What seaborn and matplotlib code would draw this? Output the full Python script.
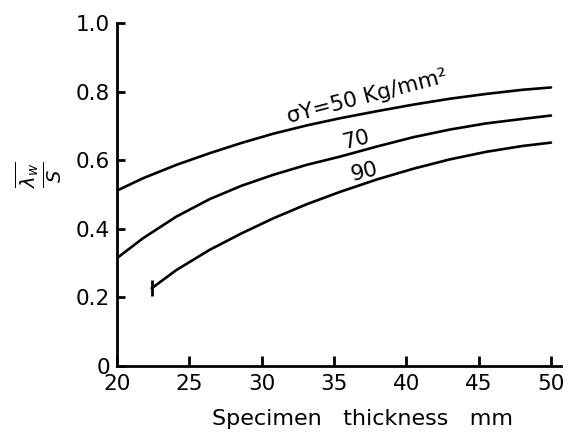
import matplotlib
matplotlib.use("Agg")
import matplotlib.pyplot as plt
import seaborn as sns

# Data
thick_50 = [20, 21.8, 24.1, 26.4, 28.6, 30.8, 33.1, 35.4, 38, 40.5, 43, 45.5, 48, 50]
ratio_50 = [0.511, 0.547, 0.586, 0.62, 0.65, 0.677, 0.701, 0.722, 0.743, 0.762, 0.779, 0.793, 0.805, 0.812]

thick_70 = [20, 21.8, 24.1, 26.4, 28.6, 30.8, 33.1, 35.4, 38, 40.5, 43, 45.5, 48, 50]
ratio_70 = [0.314, 0.372, 0.435, 0.486, 0.525, 0.557, 0.586, 0.61, 0.640, 0.667, 0.689, 0.707, 0.72, 0.73]

thick_90 = [22.4, 24.1, 26.4, 28.6, 30.8, 33.1, 35.4, 38, 40.5, 43, 45.5, 48, 50]
ratio_90 = [0.226, 0.279, 0.338, 0.386, 0.43, 0.471, 0.507, 0.544, 0.575, 0.602, 0.624, 0.641, 0.651]

curve_labels = ["σY=50 Kg/mm²", "70", "90"]
x_ticks = [20, 25, 30, 35, 40, 45, 50]
y_ticks = [0, 0.2, 0.4, 0.6, 0.8, 1.0]
y_tick_labels = ["0", "0.2", "0.4", "0.6", "0.8", "1.0"]
x_label = "Specimen   thickness   mm"

sns.set_style("ticks")
plt.rcParams["font.family"] = ["DejaVu Sans"]
plt.rcParams["text.color"] = "black"
plt.rcParams["axes.labelcolor"] = "black"

fig = plt.figure(figsize=(5.74, 4.36), dpi=100)
ax = fig.add_axes([0.2038, 0.1612, 0.7735, 0.786])

lw = 1.9
sns.lineplot(x=thick_50, y=ratio_50, ax=ax, color="black", lw=lw, legend=False)
sns.lineplot(x=thick_70, y=ratio_70, ax=ax, color="black", lw=lw, legend=False)
sns.lineplot(x=thick_90, y=ratio_90, ax=ax, color="black", lw=lw, legend=False,
             marker="|", markevery=[0], markersize=11, markeredgewidth=2.0,
             markeredgecolor="black")

ax.set_xlim(20, 50.69)
ax.set_ylim(0, 1.0)
ax.set_xticks(x_ticks)
ax.set_yticks(y_ticks)
ax.set_yticklabels(y_tick_labels)

for s in ["top", "right"]:
    ax.spines[s].set_visible(False)
for s in ["left", "bottom"]:
    ax.spines[s].set_linewidth(2.0)
    ax.spines[s].set_color("black")

ax.tick_params(axis="both", direction="in", width=2.0, labelsize=15.5,
               colors="black", labelcolor="black")
ax.tick_params(axis="x", length=7, pad=6)
ax.tick_params(axis="y", length=6, pad=5)
ax.set_facecolor("white")
ax.grid(False)

ax.set_xlabel(x_label, fontsize=16, color="black")
ax.xaxis.set_label_coords(0.554, -0.125)
ax.set_ylabel(r"$\frac{\overline{\lambda_w}}{S}$", fontsize=20, rotation=90, color="black")
ax.yaxis.set_label_coords(-0.12, 0.556)

# curve labels
ax.text(31.9, 0.708, curve_labels[0], fontsize=15.5, rotation=14.5,
        rotation_mode="anchor", ha="left", va="baseline", color="black")
ax.text(36.56, 0.659, curve_labels[1], fontsize=15.5, rotation=14,
        rotation_mode="anchor", ha="center", va="center", color="black")
ax.text(37.1, 0.566, curve_labels[2], fontsize=15.5, rotation=14,
        rotation_mode="anchor", ha="center", va="center", color="black")

fig.savefig("out.png", dpi=100, facecolor="white")
